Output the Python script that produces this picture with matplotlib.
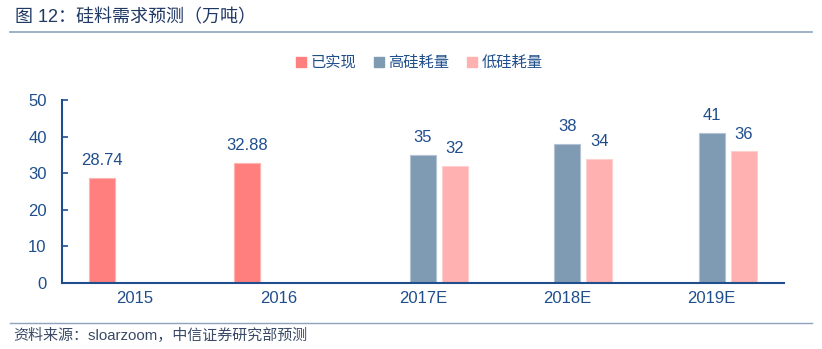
import matplotlib
matplotlib.use("Agg")
import matplotlib.pyplot as plt
import numpy as np
from matplotlib.lines import Line2D

plt.rcParams['font.family'] = ['Liberation Sans', 'Noto Sans CJK SC', 'DejaVu Sans']

categories = ['2015', '2016', '2017E', '2018E', '2019E']
series_names = ['已实现', '高硅耗量', '低硅耗量']
realized = [28.74, 32.88, None, None, None]
high = [None, None, 35, 38, 41]
low = [None, None, 32, 34, 36]
label_texts = {
    0: ['28.74', '32.88', '', '', ''],
    1: ['', '', '35', '38', '41'],
    2: ['', '', '32', '34', '36'],
}
colors = ['#FF7F7F', '#7F9AB3', '#FFB0B0']
edges = ['#FFB3B3', '#B3C2D1', '#FFD0D0']
navy = '#1F4E8C'

fig = plt.figure(figsize=(8.22, 3.49), dpi=100)
ax = fig.add_axes([62/822, 1-283/349, (784-62)/822, (283-100)/349])

x = np.arange(len(categories))
width = 0.18
offsets = [-0.22, 0.0, 0.22]
data = [realized, high, low]
for i, vals in enumerate(data):
    v = np.array([np.nan if a is None else a for a in vals], dtype=float)
    ax.bar(x + offsets[i], v, width=width, color=colors[i],
           edgecolor=edges[i], linewidth=0.8, label=series_names[i])
    for j, val in enumerate(v):
        if not np.isnan(val):
            ax.annotate(label_texts[i][j], (x[j] + offsets[i], val),
                        xytext=(0, 7), textcoords='offset points',
                        ha='center', va='bottom', fontsize=12, color=navy)

ax.set_xlim(-0.5, len(categories) - 0.5)
ax.set_ylim(0, 50)
ax.set_yticks([0, 10, 20, 30, 40, 50])
ax.set_xticks(x)
ax.set_xticklabels(categories)
for s in ['top', 'right']:
    ax.spines[s].set_visible(False)
for s in ['left', 'bottom']:
    ax.spines[s].set_color(navy)
    ax.spines[s].set_linewidth(1.5)
ax.tick_params(axis='y', direction='in', length=4, width=1.2, color=navy,
               labelcolor=navy, labelsize=12, pad=11)
ax.tick_params(axis='x', length=0, labelcolor=navy, labelsize=12, pad=6)

handles = [Line2D([0], [0], marker='s', linestyle='', markersize=7,
                  markerfacecolor=c, markeredgecolor=c) for c in colors]
fig.legend(handles, series_names, loc='center', bbox_to_anchor=(418/822, 1-63/349),
           ncol=3, frameon=False, fontsize=11, labelcolor=navy,
           handletextpad=0.1, columnspacing=1.0, handlelength=1.0)

fig.text(15/822, 1-18/349, '图 12：硅料需求预测（万吨）', fontsize=13,
         color='#1F3864', ha='left', va='center')
fig.add_artist(Line2D([10/822, 812/822], [1-32/349, 1-32/349],
                      color='#8EA3BE', linewidth=1.2, transform=fig.transFigure))
fig.add_artist(Line2D([10/822, 812/822], [1-323/349, 1-323/349],
                      color='#8EA3BE', linewidth=1.0, transform=fig.transFigure))
fig.text(13/822, 1-336/349, '资料来源：sloarzoom，中信证券研究部预测', fontsize=10.8,
         color='#3A4A66', ha='left', va='center')

fig.savefig('out.png', dpi=100)
